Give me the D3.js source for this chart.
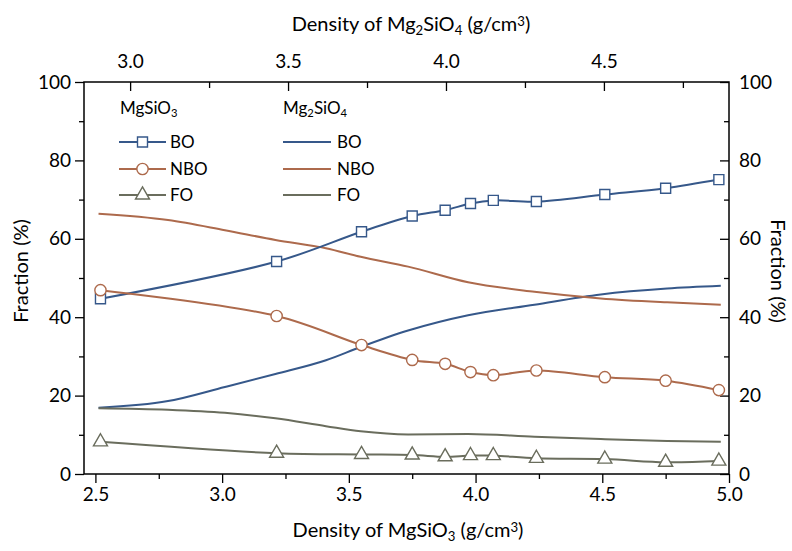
<!DOCTYPE html>
<html>
<head>
<meta charset="utf-8">
<script src="https://cdn.jsdelivr.net/npm/d3@7"></script>
<style>
  html, body { margin: 0; padding: 0; background: #fff; }
  svg { display: block; font-family: Lato, "Open Sans", sans-serif; }
</style>
</head>
<body>
<svg id="chart" width="792" height="551"></svg>
<script>
// MgSiO3 simulations (bottom density axis), drawn with markers
const mgsio3Density = [2.52, 3.215, 3.55, 3.75, 3.88, 3.98, 4.07, 4.24, 4.51, 4.75, 4.96];
const mgsio3BO  = [44.7, 54.2, 61.8, 65.8, 67.3, 69.0, 69.8, 69.5, 71.3, 72.9, 75.1];
const mgsio3NBO = [46.9, 40.3, 32.9, 29.1, 28.1, 26.0, 25.2, 26.4, 24.7, 23.8, 21.4];
const mgsio3FO  = [8.2, 5.3, 5.0, 4.85, 4.4, 4.7, 4.7, 4.0, 3.8, 3.0, 3.3];

// Mg2SiO4 simulations (top density axis), drawn as smooth lines
const mg2sio4Density = [2.90, 3.12, 3.30, 3.46, 3.62, 3.73, 3.88, 4.07, 4.28, 4.49, 4.70, 4.87];
const mg2sio4BO  = [16.9, 18.6, 22.2, 25.5, 29.0, 32.4, 36.6, 40.5, 43.2, 45.8, 47.3, 48.0];
const mg2sio4NBO = [66.4, 64.8, 62.2, 59.7, 57.6, 55.4, 52.9, 48.9, 46.5, 44.8, 43.8, 43.2];
const mg2sio4FO  = [16.8, 16.4, 15.6, 14.2, 12.2, 10.9, 10.1, 10.2, 9.5, 8.9, 8.4, 8.2];

const bottomTicks = [2.5, 3.0, 3.5, 4.0, 4.5, 5.0];
const topTicks = [3.0, 3.5, 4.0, 4.5];
const yTicks = [0, 20, 40, 60, 80, 100];

const colors = { BO: "#36588a", NBO: "#ad6a4c", FO: "#6a6d5d" };

const svg = d3.select("#chart");
const plot = { left: 84, right: 729, top: 82, bottom: 474 };

const xBottom = d3.scaleLinear().domain([2.455, 5.0]).range([plot.left, plot.right]);
const xTop = d3.scaleLinear().domain([2.854, 4.896]).range([plot.left, plot.right]);
const y = d3.scaleLinear().domain([0, 100]).range([plot.bottom, plot.top]);

const fmt1 = d3.format(".1f");

function styleAxis(g) {
  g.select(".domain").remove();
  g.selectAll("line").attr("stroke", "#000").attr("stroke-width", 1.3);
  g.selectAll("text").attr("fill", "#000").style("font-size", "19px").style("font-family", "Lato, sans-serif");
}

// frame
svg.append("rect")
  .attr("x", plot.left).attr("y", plot.top)
  .attr("width", plot.right - plot.left).attr("height", plot.bottom - plot.top)
  .attr("fill", "none").attr("stroke", "#000").attr("stroke-width", 1.5);

// bottom axis (outward ticks)
svg.append("g").attr("transform", `translate(0,${plot.bottom})`)
  .call(d3.axisBottom(xBottom).tickValues(d3.range(2.75, 5.0, 0.5)).tickSize(5).tickFormat(""))
  .call(styleAxis);
svg.append("g").attr("transform", `translate(0,${plot.bottom})`)
  .call(d3.axisBottom(xBottom).tickValues(bottomTicks).tickSize(9).tickPadding(5).tickFormat(fmt1))
  .call(styleAxis);

// top axis (inward ticks)
svg.append("g").attr("transform", `translate(0,${plot.top})`)
  .call(d3.axisTop(xTop).tickValues(d3.range(3.25, 4.9, 0.5)).tickSize(-6).tickFormat(""))
  .call(styleAxis);
svg.append("g").attr("transform", `translate(0,${plot.top})`)
  .call(d3.axisTop(xTop).tickValues(topTicks).tickSize(-9).tickPadding(14).tickFormat(fmt1))
  .call(styleAxis);

// left axis (outward ticks)
svg.append("g").attr("transform", `translate(${plot.left},0)`)
  .call(d3.axisLeft(y).tickValues(d3.range(10, 100, 20)).tickSize(5).tickFormat(""))
  .call(styleAxis);
svg.append("g").attr("transform", `translate(${plot.left},0)`)
  .call(d3.axisLeft(y).tickValues(yTicks).tickSize(9).tickPadding(4))
  .call(styleAxis);

// right axis (inward ticks)
svg.append("g").attr("transform", `translate(${plot.right},0)`)
  .call(d3.axisRight(y).tickValues(d3.range(10, 100, 20)).tickSize(-5).tickFormat(""))
  .call(styleAxis);
svg.append("g").attr("transform", `translate(${plot.right},0)`)
  .call(d3.axisRight(y).tickValues(yTicks).tickSize(-9).tickPadding(10))
  .call(styleAxis);

// axis titles
function chemTitle(sel, parts) {
  parts.forEach(p => {
    const t = sel.append("tspan").text(p.t);
    if (p.sub) t.attr("baseline-shift", "-30%").style("font-size", "0.66em");
    if (p.sup) t.attr("baseline-shift", "40%").style("font-size", "0.66em");
  });
}
const titleStyle = s => s.attr("fill", "#000").style("font-size", "20px");

chemTitle(svg.append("text").attr("x", 408).attr("y", 537).attr("text-anchor", "middle").call(titleStyle),
  [{t: "Density of MgSiO"}, {t: "3", sub: true}, {t: " (g/cm"}, {t: "3", sup: true}, {t: ")"}]);
chemTitle(svg.append("text").attr("x", 411).attr("y", 31).attr("text-anchor", "middle").call(titleStyle),
  [{t: "Density of Mg"}, {t: "2", sub: true}, {t: "SiO"}, {t: "4", sub: true}, {t: " (g/cm"}, {t: "3", sup: true}, {t: ")"}]);

svg.append("text").attr("transform", "translate(28,271) rotate(-90)")
  .attr("text-anchor", "middle").call(titleStyle).text("Fraction (%)");
svg.append("text").attr("transform", "translate(771,271) rotate(90)")
  .attr("text-anchor", "middle").call(titleStyle).text("Fraction (%)");

const layer = svg.append("g");

const mg2Series = [
  { key: "BO", values: mg2sio4BO },
  { key: "NBO", values: mg2sio4NBO },
  { key: "FO", values: mg2sio4FO }
];
const mgSeries = [
  { key: "BO", values: mgsio3BO, marker: "square" },
  { key: "NBO", values: mgsio3NBO, marker: "circle" },
  { key: "FO", values: mgsio3FO, marker: "triangle" }
];

const lineTop = d3.line().x(d => xTop(d[0])).y(d => y(d[1])).curve(d3.curveMonotoneX);
const lineBottom = d3.line().x(d => xBottom(d[0])).y(d => y(d[1])).curve(d3.curveCatmullRom.alpha(0.5));

mg2Series.forEach(s => {
  layer.append("path")
    .datum(mg2sio4Density.map((d, i) => [d, s.values[i]]))
    .attr("d", lineTop).attr("fill", "none")
    .attr("stroke", colors[s.key]).attr("stroke-width", 2);
});

const symbolFor = {
  square: d3.symbol().type(d3.symbolSquare).size(100),
  circle: d3.symbol().type(d3.symbolCircle).size(100),
  triangle: d3.symbol().type(d3.symbolTriangle).size(85)
};

mgSeries.forEach(s => {
  const pts = mgsio3Density.map((d, i) => [d, s.values[i]]);
  layer.append("path").datum(pts)
    .attr("d", lineBottom).attr("fill", "none")
    .attr("stroke", colors[s.key]).attr("stroke-width", 2);
  layer.selectAll(null).data(pts).join("path")
    .attr("transform", d => `translate(${xBottom(d[0])},${y(d[1])})`)
    .attr("d", symbolFor[s.marker])
    .attr("fill", "#fff").attr("stroke", colors[s.key]).attr("stroke-width", 1.4);
});

// legend
const legend = svg.append("g").style("font-size", "17px");
const rows = [142, 169, 195];
chemTitle(legend.append("text").attr("x", 120).attr("y", 114).attr("fill", "#000"),
  [{t: "MgSiO"}, {t: "3", sub: true}]);
chemTitle(legend.append("text").attr("x", 283).attr("y", 114).attr("fill", "#000"),
  [{t: "Mg"}, {t: "2", sub: true}, {t: "SiO"}, {t: "4", sub: true}]);

mgSeries.forEach((s, i) => {
  const yy = rows[i];
  legend.append("line").attr("x1", 119).attr("x2", 166).attr("y1", yy).attr("y2", yy)
    .attr("stroke", colors[s.key]).attr("stroke-width", 2);
  legend.append("path").attr("transform", `translate(142.5,${yy})`).attr("d", symbolFor[s.marker])
    .attr("fill", "#fff").attr("stroke", colors[s.key]).attr("stroke-width", 1.4);
  legend.append("text").attr("x", 170).attr("y", yy + 6).attr("fill", "#000").text(s.key);
});
mg2Series.forEach((s, i) => {
  const yy = rows[i];
  legend.append("line").attr("x1", 283).attr("x2", 331).attr("y1", yy).attr("y2", yy)
    .attr("stroke", colors[s.key]).attr("stroke-width", 2);
  legend.append("text").attr("x", 337).attr("y", yy + 6).attr("fill", "#000").text(s.key);
});
</script>
</body>
</html>
